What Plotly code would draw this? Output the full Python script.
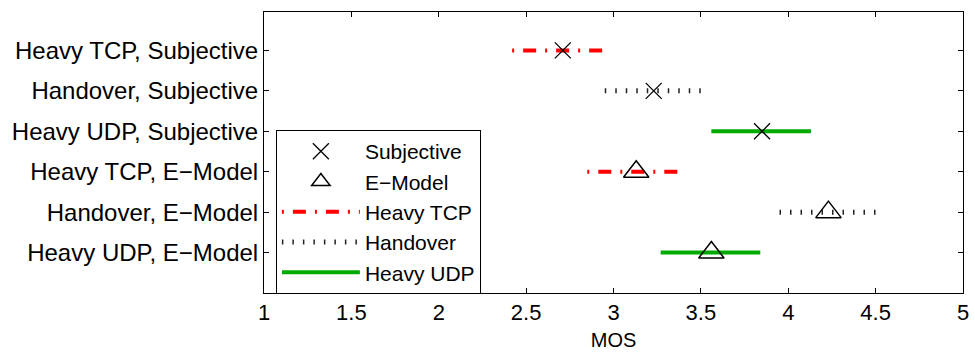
import plotly.graph_objects as go

# Scenario labels, bottom to top
categories = [
    "Heavy UDP, E\u2212Model",
    "Handover, E\u2212Model",
    "Heavy TCP, E\u2212Model",
    "Heavy UDP, Subjective",
    "Handover, Subjective",
    "Heavy TCP, Subjective",
]
positions = [1, 2, 3, 4, 5, 6]

# Mean MOS and interval bounds for each scenario (same order as categories)
mos_mean = [3.56, 4.23, 3.13, 3.85, 3.23, 2.71]
mos_low = [3.27, 3.95, 2.85, 3.56, 2.95, 2.42]
mos_high = [3.84, 4.50, 3.39, 4.13, 3.51, 2.96]

# Which traffic condition / method each row belongs to
condition = ["Heavy UDP", "Handover", "Heavy TCP", "Heavy UDP", "Handover", "Heavy TCP"]
method = ["E\u2212Model", "E\u2212Model", "E\u2212Model", "Subjective", "Subjective", "Subjective"]

line_styles = {
    "Heavy TCP": dict(color="rgb(255,0,0)", width=4, dash="2px,9px,13px,9px"),
    "Handover": dict(color="#222222", width=5, dash="1.5px,9px"),
    "Heavy UDP": dict(color="rgb(0,170,0)", width=4, dash="solid"),
}
legend_rank = {"Subjective": 1, "E\u2212Model": 2, "Heavy TCP": 3, "Handover": 4, "Heavy UDP": 5}

fig = go.Figure()

shown = set()
for i, cond in enumerate(condition):
    fig.add_trace(go.Scatter(
        x=[mos_low[i], mos_high[i]],
        y=[positions[i], positions[i]],
        mode="lines",
        line=line_styles[cond],
        name=cond,
        legendgroup=cond,
        showlegend=cond not in shown,
        legendrank=legend_rank[cond],
        hoverinfo="skip",
    ))
    shown.add(cond)

marker_styles = {
    "Subjective": dict(symbol="x-thin-open", size=16, line=dict(color="black", width=1.3), color="black"),
    "E\u2212Model": dict(symbol="triangle-up-open", size=22, line=dict(color="black", width=1.5), color="black"),
}
for m in ["Subjective", "E\u2212Model"]:
    idx = [i for i, mm in enumerate(method) if mm == m]
    fig.add_trace(go.Scatter(
        x=[mos_mean[i] for i in idx],
        y=[positions[i] for i in idx],
        mode="markers",
        marker=marker_styles[m],
        name=m,
        legendrank=legend_rank[m],
    ))

font_family = "Liberation Sans, Arial, Helvetica, sans-serif"

fig.update_layout(
    width=975,
    height=354,
    margin=dict(l=264, r=12, t=12, b=61),
    paper_bgcolor="white",
    plot_bgcolor="white",
    font=dict(family=font_family, size=22, color="black"),
    showlegend=True,
    legend=dict(
        x=0.017, y=0.58, xanchor="left", yanchor="top",
        bordercolor="black", borderwidth=1, bgcolor="white",
        font=dict(size=21), itemwidth=78, itemsizing="trace",
        tracegroupgap=0,
    ),
    xaxis=dict(
        range=[1, 5], dtick=0.5, tick0=1,
        showline=True, linecolor="black", linewidth=1, mirror="ticks",
        ticks="inside", ticklen=5, tickcolor="black",
        showgrid=False, zeroline=False, automargin=False,
        tickfont=dict(size=22),
        title=dict(text="MOS", standoff=8, font=dict(size=20)),
    ),
    yaxis=dict(
        range=[0, 6.95],
        tickvals=positions, ticktext=categories,
        showline=True, linecolor="black", linewidth=1, mirror="ticks",
        ticks="inside", ticklen=5, tickcolor="black",
        showgrid=False, zeroline=False, automargin=False,
        tickfont=dict(size=24),
    ),
)

fig.write_html("out.html")
